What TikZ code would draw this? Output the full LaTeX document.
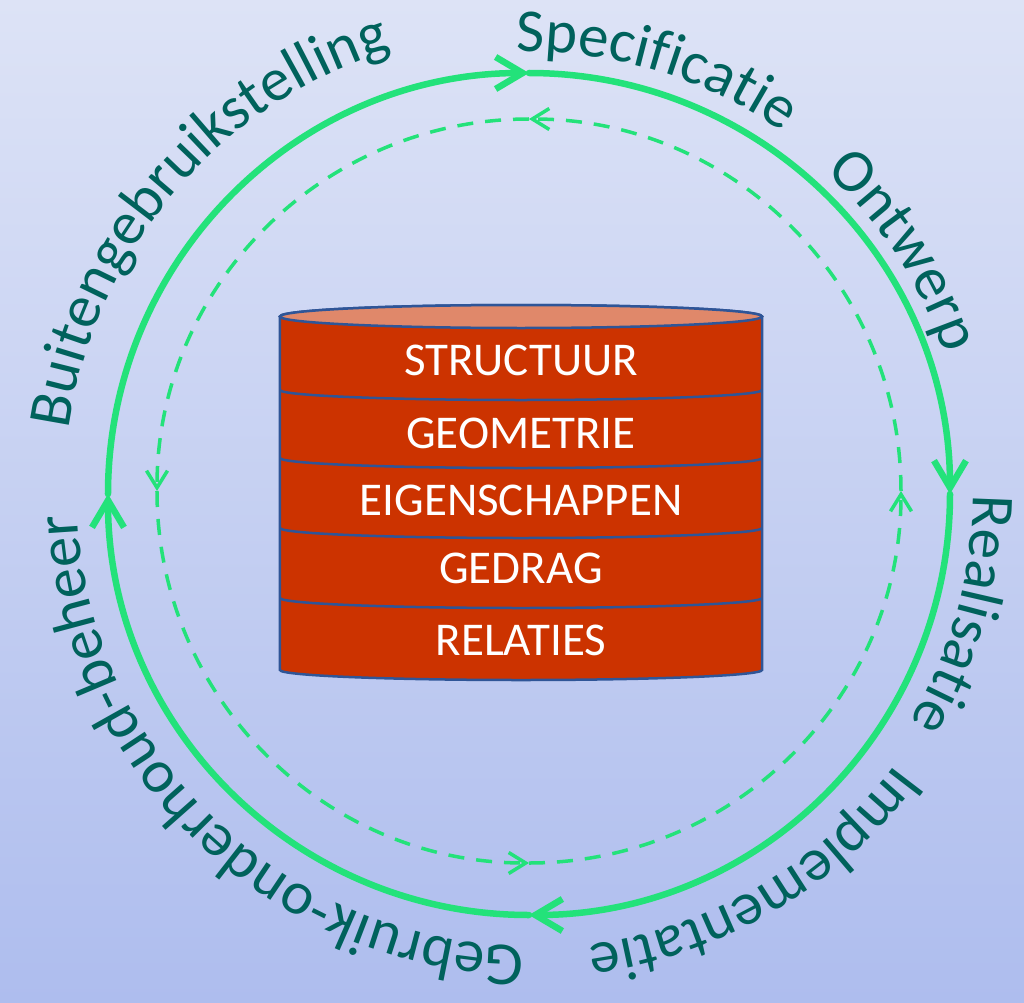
\documentclass[tikz,border=0pt]{standalone}
\usepackage{fontspec}
\setmainfont{Carlito}
\usetikzlibrary{decorations.text,arrows.meta}
\definecolor{ringgreen}{HTML}{23E27A}
\definecolor{labteal}{HTML}{00625C}
\definecolor{cylred}{HTML}{CC3300}
\definecolor{cyltop}{HTML}{E0886A}
\definecolor{cylblue}{HTML}{2F5597}
\definecolor{bgtop}{HTML}{DDE3F6}
\definecolor{bgbottom}{HTML}{AEBDEE}
\newcommand{\arcfont}{\fontsize{61}{61}\selectfont}
\begin{document}
\begin{tikzpicture}[x=1pt,y=1pt]
\tikzstyle{ring}=[ringgreen,line width=6.5pt,line cap=round,-{Straight Barb[length=27pt,width=32pt]}]
\tikzstyle{innerring}=[ringgreen,line width=3.5pt,dash pattern=on 16pt off 12pt,-{Straight Barb[length=17pt,width=21pt]}]
\tikzstyle{arclabel}=[decorate,decoration={text along path,text align=center,text color=labteal}]
\tikzstyle{layer}=[text=white,font=\fontsize{47}{47}\selectfont]
\useasboundingbox (-529,-508) rectangle (495,494);
\shade[top color=bgtop,bottom color=bgbottom] (-529,-508) rectangle (495,494);

\coordinate (otop) at (90:421); \coordinate (oright) at (0:421);
\coordinate (obottom) at (270:421); \coordinate (oleft) at (180:421);
\draw[ring] (oleft) arc[start angle=180,end angle=90,radius=421];
\draw[ring] (otop) arc[start angle=90,end angle=0,radius=421];
\draw[ring] (oright) arc[start angle=360,end angle=270,radius=421];
\draw[ring] (obottom) arc[start angle=270,end angle=180,radius=421];

\coordinate (itop) at (0,375); \coordinate (ileft) at (-372,3);
\coordinate (ibottom) at (0,-369); \coordinate (iright) at (372,3);
\draw[innerring] (itop) arc[start angle=90,end angle=180,radius=372];
\draw[innerring] (ileft) arc[start angle=180,end angle=270,radius=372];
\draw[innerring] (ibottom) arc[start angle=270,end angle=360,radius=372];
\draw[innerring] (iright) arc[start angle=0,end angle=90,radius=372];

\path[arclabel,decoration={text={|\arcfont|Specificatie}}] (118.3:442) arc[start angle=118.3,end angle=28.3,radius=442];
\path[arclabel,decoration={text={|\arcfont|Ontwerp}}] (78:438) arc[start angle=78,end angle=-12,radius=438];
\path[arclabel,decoration={text={|\arcfont|Realisatie}}] (29.5:444) arc[start angle=29.5,end angle=-60.5,radius=444];
\path[arclabel,decoration={text={|\arcfont|Implementatie}}] (-9.5:455) arc[start angle=-9.5,end angle=-109.5,radius=455];
\path[arclabel,decoration={text={|\arcfont|Gebruik-onderhoud-beheer}}] (-79:452) arc[start angle=-79,end angle=-189,radius=452];
\path[arclabel,decoration={text={|\arcfont|Buitengebruikstelling}}] (184.6:465) arc[start angle=184.6,end angle=94.6,radius=465];

\draw[cylblue,line width=2.5pt,fill=cylred] (-249,177.5) -- (-249,-176) arc[start angle=180,end angle=360,x radius=241,y radius=10] -- (233,177.5) arc[start angle=0,end angle=180,x radius=241,y radius=11.5] -- cycle;
\draw[cylblue,line width=2.5pt] (-249,104) arc[start angle=180,end angle=360,x radius=241,y radius=10];
\draw[cylblue,line width=2.5pt] (-249,36) arc[start angle=180,end angle=360,x radius=241,y radius=10];
\draw[cylblue,line width=2.5pt] (-249,-34) arc[start angle=180,end angle=360,x radius=241,y radius=10];
\draw[cylblue,line width=2.5pt] (-249,-104) arc[start angle=180,end angle=360,x radius=241,y radius=10];
\draw[cylblue,line width=2.5pt,fill=cyltop] (-8,177.5) ellipse[x radius=241,y radius=11.5];

\path (-8,134) node[layer](l1){STRUCTUUR};
\path (-8,61) node[layer](l2){GEOMETRIE};
\path (-8,-6) node[layer](l3){EIGENSCHAPPEN};
\path (-8,-74) node[layer](l4){GEDRAG};
\path (-8,-146) node[layer](l5){RELATIES};
\end{tikzpicture}
\end{document}
